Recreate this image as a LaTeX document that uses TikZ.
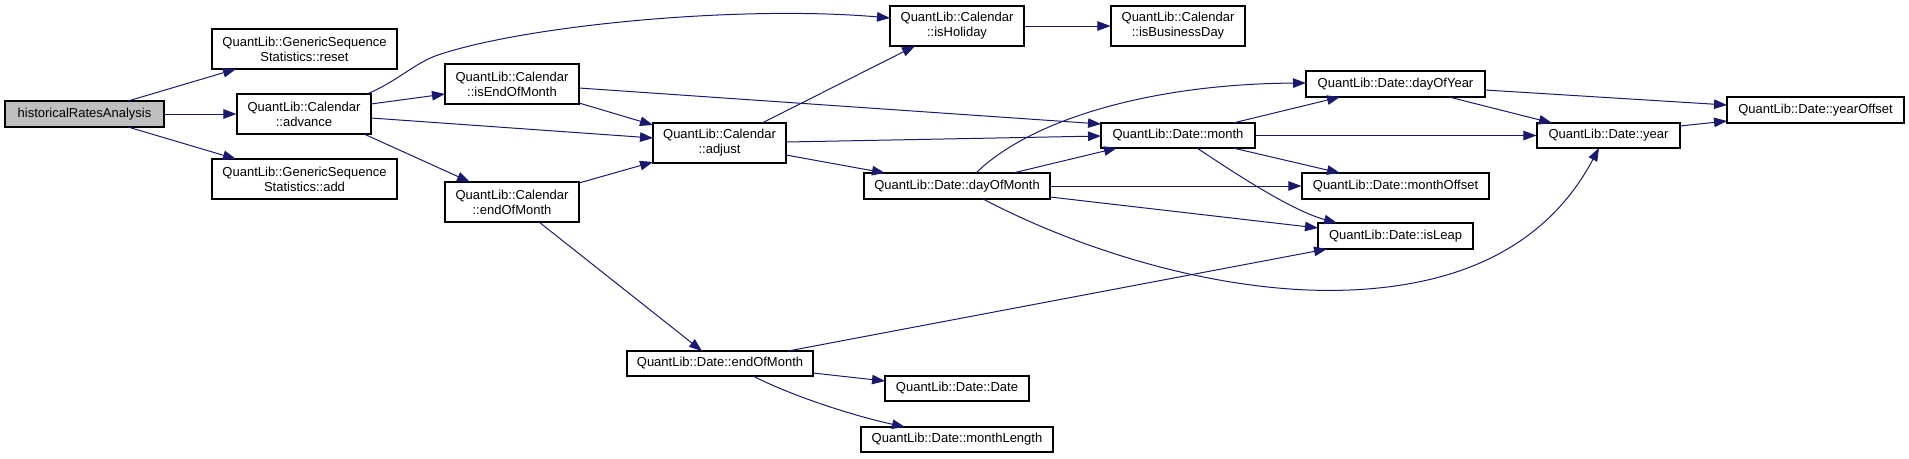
\documentclass[tikz,border=0pt]{standalone}
\usepackage{fontspec}
\setmainfont{Liberation Sans}
\usetikzlibrary{arrows.meta}
\definecolor{edgeblue}{RGB}{25,25,112}
\definecolor{hragray}{RGB}{191,191,191}
\begin{document}
\begin{tikzpicture}[x=1pt,y=-1pt,
  box/.style={draw=black,line width=1.1pt,fill=white,inner sep=0pt,align=center,
    font=\fontsize{13}{15}\selectfont},
  call/.style={draw=edgeblue,line width=1pt,-{Triangle[length=13pt,width=9.5pt]}}]
\useasboundingbox (0,0) rectangle (1909,458);

% nodes
\node[box,fill=hragray,minimum width=159pt,minimum height=26pt] (hra) at (84.5,114) {historicalRatesAnalysis};
\node[box,minimum width=185pt,minimum height=40pt] (reset) at (304.5,49) {QuantLib::GenericSequence\\Statistics::reset};
\node[box,minimum width=134pt,minimum height=40pt] (advance) at (304,114) {QuantLib::Calendar\\::advance};
\node[box,minimum width=185pt,minimum height=40pt] (add) at (304.5,179) {QuantLib::GenericSequence\\Statistics::add};
\node[box,minimum width=134pt,minimum height=40pt] (iseom) at (512,84) {QuantLib::Calendar\\::isEndOfMonth};
\node[box,minimum width=134pt,minimum height=40pt] (caleom) at (512,202) {QuantLib::Calendar\\::endOfMonth};
\node[box,minimum width=133pt,minimum height=40pt] (adjust) at (719.5,143) {QuantLib::Calendar\\::adjust};
\node[box,minimum width=134pt,minimum height=40pt] (isholiday) at (957,26) {QuantLib::Calendar\\::isHoliday};
\node[box,minimum width=134pt,minimum height=40pt] (isbday) at (1178,26) {QuantLib::Calendar\\::isBusinessDay};
\node[box,minimum width=186pt,minimum height=25pt] (dateeom) at (720,363.5) {QuantLib::Date::endOfMonth};
\node[box,minimum width=154pt,minimum height=25pt] (month) at (1178,135.5) {QuantLib::Date::month};
\node[box,minimum width=186pt,minimum height=26pt] (dom) at (957,186) {QuantLib::Date::dayOfMonth};
\node[box,minimum width=144pt,minimum height=25pt] (date) at (957,388.5) {QuantLib::Date::Date};
\node[box,minimum width=192pt,minimum height=25pt] (mlength) at (957,439.5) {QuantLib::Date::monthLength};
\node[box,minimum width=179pt,minimum height=26pt] (doy) at (1395.5,84) {QuantLib::Date::dayOfYear};
\node[box,minimum width=187pt,minimum height=26pt] (moffset) at (1395.5,186) {QuantLib::Date::monthOffset};
\node[box,minimum width=155pt,minimum height=26pt] (isleap) at (1395.5,236) {QuantLib::Date::isLeap};
\node[box,minimum width=143pt,minimum height=25pt] (year) at (1608.5,135.5) {QuantLib::Date::year};
\node[box,minimum width=177pt,minimum height=26pt] (yoffset) at (1815.5,110) {QuantLib::Date::yearOffset};

% edges
\draw[call] ([shift={(43.5,-13)}]hra.center) -- ([shift={(-68.5,20)}]reset.center);
\draw[call] (hra.east) -- (advance.west);
\draw[call] ([shift={(43.5,13)}]hra.center) -- ([shift={(-68.5,-20)}]add.center);

\draw[call] ([shift={(67,-10)}]advance.center) -- ([shift={(-67,10)}]iseom.center);
\draw[call] ([shift={(67,4)}]advance.center) -- ([shift={(-66.5,-5)}]adjust.center);
\draw[call] ([shift={(60,20)}]advance.center) -- ([shift={(-42,-20)}]caleom.center);
\draw[call] ([shift={(63,-20)}]advance.center) .. controls (400,80) and (415,62) .. (441,54)
  .. controls (530,25) and (740,5) .. ([shift={(-67,-8)}]isholiday.center);

\draw[call] ([shift={(67,19)}]iseom.center) -- ([shift={(-66.5,-18)}]adjust.center);
\draw[call] ([shift={(67,4)}]iseom.center) -- ([shift={(-77,-11.5)}]month.center);

\draw[call] ([shift={(67,-19)}]caleom.center) -- ([shift={(-66.5,19)}]adjust.center);
\draw[call] ([shift={(27,20)}]caleom.center) -- ([shift={(-18,-12.5)}]dateeom.center);

\draw[call] ([shift={(42.5,-20)}]adjust.center) -- ([shift={(-42,20)}]isholiday.center);
\draw[call] ([shift={(66.5,-1)}]adjust.center) -- ([shift={(-77,0.5)}]month.center);
\draw[call] ([shift={(66.5,12)}]adjust.center) -- ([shift={(-72,-13)}]dom.center);

\draw[call] (isholiday.east) -- (isbday.west);

\draw[call] ([shift={(19,-13)}]dom.center) .. controls (1030,120) and (1150,84) .. ([shift={(-89.5,-1)}]doy.center);
\draw[call] ([shift={(56,-13)}]dom.center) -- ([shift={(-61,12.5)}]month.center);
\draw[call] (dom.east) -- (moffset.west);
\draw[call] ([shift={(93,11)}]dom.center) -- ([shift={(-77.5,-8)}]isleap.center);
\draw[call] ([shift={(26,13)}]dom.center) .. controls (1090,255) and (1230,295) .. (1350,290)
  .. controls (1470,285) and (1550,240) .. ([shift={(-9.5,12.5)}]year.center);

\draw[call] ([shift={(55,-12.5)}]month.center) -- ([shift={(-55.5,13)}]doy.center);
\draw[call] (month.east) -- (year.west);
\draw[call] ([shift={(55,12.5)}]month.center) -- ([shift={(-55.5,-13)}]moffset.center);
\draw[call] ([shift={(19,12.5)}]month.center) .. controls (1230,170) and (1290,210) .. ([shift={(-58.5,-13)}]isleap.center);

\draw[call] ([shift={(89.5,6)}]doy.center) -- ([shift={(-88.5,-5)}]yoffset.center);
\draw[call] ([shift={(53.5,13)}]doy.center) -- ([shift={(-56.5,-12.5)}]year.center);
\draw[call] ([shift={(71.5,-9.5)}]year.center) -- ([shift={(-88.5,11)}]yoffset.center);

\draw[call] ([shift={(68,-12.5)}]dateeom.center) -- ([shift={(-68.5,13)}]isleap.center);
\draw[call] ([shift={(93,9.5)}]dateeom.center) -- ([shift={(-72,-7.5)}]date.center);
\draw[call] ([shift={(33,12.5)}]dateeom.center) .. controls (790,395) and (850,415) .. ([shift={(-52,-12.5)}]mlength.center);
\end{tikzpicture}
\end{document}
